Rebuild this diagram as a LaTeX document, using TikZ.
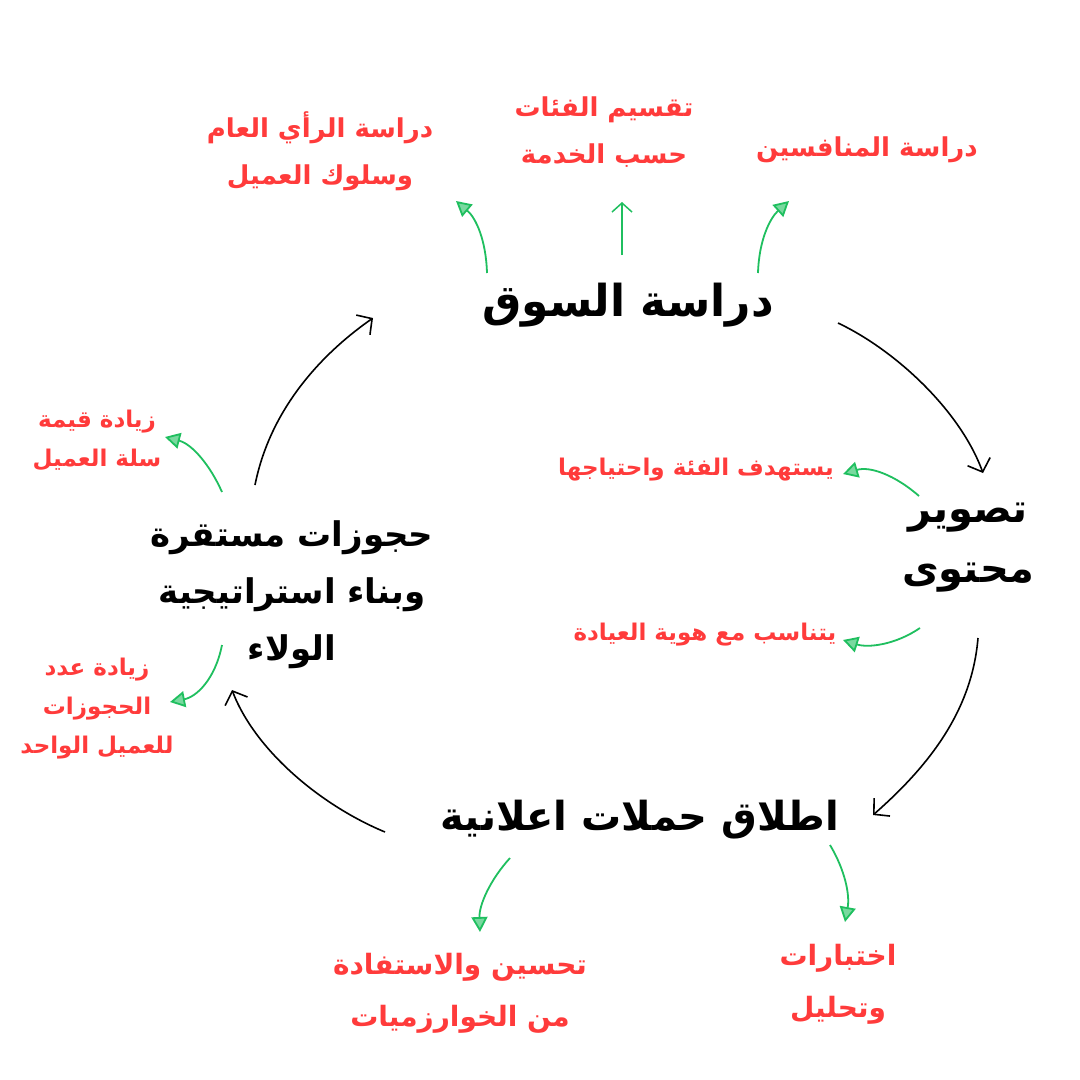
\documentclass[tikz,border=0pt]{standalone}
\usepackage{fontspec}
\usetikzlibrary{arrows.meta}
\TeXXeTstate=1
\newfontfamily\arabicfont[Script=Arabic]{DejaVu Sans}
\definecolor{rd}{HTML}{FF3B3B}
\definecolor{gn}{HTML}{1FBF5F}
\begin{document}
\begin{tikzpicture}[x=1pt,y=-1pt,
  main/.style={font=\arabicfont\bfseries\fontsize{44}{64}\selectfont, align=center, inner sep=0pt},
  mainmid/.style={font=\arabicfont\bfseries\fontsize{40}{60}\selectfont, align=center, inner sep=0pt},
  mainleft/.style={font=\arabicfont\bfseries\fontsize{34}{57}\selectfont, align=center, inner sep=0pt},
  subbig/.style={font=\arabicfont\bfseries\fontsize{26}{47}\selectfont, text=rd, align=center, inner sep=0pt},
  subbot/.style={font=\arabicfont\bfseries\fontsize{28}{52}\selectfont, text=rd, align=center, inner sep=0pt},
  subsmall/.style={font=\arabicfont\bfseries\fontsize{23}{39}\selectfont, text=rd, align=center, inner sep=0pt},
  cyc/.style={draw=black, line width=1.6pt, -{Straight Barb[length=11pt,width=24pt]}},
  gar/.style={draw=gn, line width=1.8pt, -{Triangle[length=15pt,width=16pt,fill=gn!60]}},
  gstraight/.style={draw=gn, line width=1.5pt, -{Straight Barb[length=9pt,width=20pt]}},
]
\fill[white] (0,0) rectangle (1080,1080);
\useasboundingbox (0,0) rectangle (1080,1080);

% main nodes
\node[main] (ms) at (628,305) {\beginR دراسة السوق\endR};
\node[mainmid] (ct) at (968,548) {\beginR تصوير\endR\\ \beginR محتوى\endR};
\node[mainmid] (ad) at (640,820) {\beginR اطلاق حملات اعلانية\endR};
\node[mainleft] (lo) at (292,595) {\beginR حجوزات مستقرة\endR\\ \beginR وبناء استراتيجية\endR\\ \beginR الولاء\endR};

% red nodes
\node[subbig] (r1) at (320,151) {\beginR دراسة الرأي العام\endR\\ \beginR وسلوك العميل\endR};
\node[subbig] (r2) at (604,132) {\beginR تقسيم الفئات\endR\\ \beginR حسب الخدمة\endR};
\node[subbig] (r3) at (867,150) {\beginR دراسة المنافسين\endR};
\node[subsmall] (r4) at (696,470) {\beginR يستهدف الفئة واحتياجها\endR};
\node[subsmall] (r5) at (705,635) {\beginR يتناسب مع هوية العيادة\endR};
\node[subbot] (r6) at (838,984) {\beginR اختبارات\endR\\ \beginR وتحليل\endR};
\node[subbot] (r7) at (460,993) {\beginR تحسين والاستفادة\endR\\ \beginR من الخوارزميات\endR};
\node[subsmall] (r8) at (97,440) {\beginR زيادة قيمة\endR\\ \beginR سلة العميل\endR};
\node[subsmall] (r9) at (97,709) {\beginR زيادة عدد\endR\\ \beginR الحجوزات\endR\\ \beginR للعميل الواحد\endR};

% connector end points
\coordinate (c1a) at (838,323); \coordinate (c1b) at (983,473);
\coordinate (c2a) at (978,638); \coordinate (c2b) at (873,815);
\coordinate (c3a) at (385,832); \coordinate (c3b) at (232,690);
\coordinate (c4a) at (255,485); \coordinate (c4b) at (373,318);

% cycle arrows
\draw[cyc] (c1a) .. controls (895,350) and (960,410) .. (c1b);
\draw[cyc] (c2a) .. controls (972,710) and (930,765) .. (c2b);
\draw[cyc] (c3a) .. controls (320,805) and (255,750) .. (c3b);
\draw[cyc] (c4a) .. controls (270,410) and (320,355) .. (c4b);

% green arrows
\coordinate (g1a) at (487,273); \coordinate (g1b) at (456,201);
\coordinate (g2a) at (622,255); \coordinate (g2b) at (622,202);
\coordinate (g3a) at (758,273); \coordinate (g3b) at (789,201);
\coordinate (g4a) at (919,496); \coordinate (g4b) at (843,474);
\coordinate (g5a) at (920,628); \coordinate (g5b) at (843,640);
\coordinate (g6a) at (222,492); \coordinate (g6b) at (165,437);
\coordinate (g7a) at (222,645); \coordinate (g7b) at (170,702);
\coordinate (g8a) at (510,858); \coordinate (g8b) at (480,932);
\coordinate (g9a) at (830,845); \coordinate (g9b) at (845,922);

\draw[gar] (g1a) .. controls (486,240) and (476,218) .. (g1b);
\draw[gstraight] (g2a) -- (g2b);
\draw[gar] (g3a) .. controls (759,240) and (770,218) .. (g3b);
\draw[gar] (g4a) .. controls (895,475) and (870,466) .. (g4b);
\draw[gar] (g5a) .. controls (895,645) and (868,648) .. (g5b);
\draw[gar] (g6a) .. controls (210,465) and (192,444) .. (g6b);
\draw[gar] (g7a) .. controls (215,680) and (196,697) .. (g7b);
\draw[gar] (g8a) .. controls (490,880) and (479,905) .. (g8b);
\draw[gar] (g9a) .. controls (845,870) and (850,895) .. (g9b);
\end{tikzpicture}
\end{document}
